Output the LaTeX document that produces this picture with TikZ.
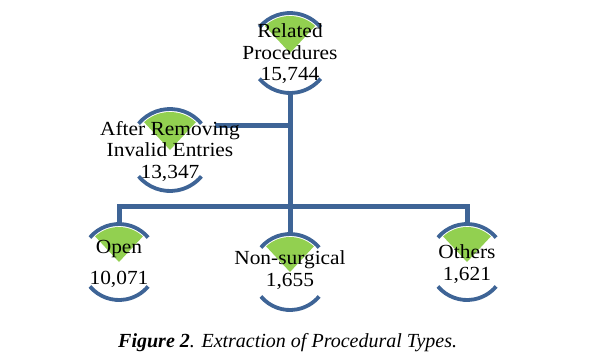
\documentclass[tikz,border=0pt]{standalone}
\usepackage{fontspec}
\setmainfont{Liberation Serif}
\usepackage{tikz}
\usetikzlibrary{backgrounds}
\definecolor{rimblue}{RGB}{62,100,150}
\definecolor{leafgreen}{RGB}{146,208,80}
\tikzstyle{txt} = [align=center,inner sep=0pt,font=\addfontfeature{FakeStretch=1.07}\fontsize{20}{21.5}\selectfont]
\tikzstyle{link} = [draw=rimblue,line width=5pt]
\tikzstyle{rim} = [draw=rimblue,line width=3.8pt]
\tikzstyle{wedge} = [fill=leafgreen]

\begin{document}
\begin{tikzpicture}[x=1pt,y=1pt]
        \useasboundingbox (0,0) rectangle (602,-362);
        \node[txt] (rel) at (290,-54) {Related\\Procedures\\15,744};
        \node[txt] (aft) at (170,-151) {After Removing\\Invalid Entries\\13,347};
        \node[txt] (open) at (119,-264) {Open\\[9pt]10,071};
        \node[txt] (non) at (290,-270) {Non-surgical\\1,655};
        \node[txt] (oth) at (467,-264) {Others\\1,621};
        \coordinate (bar) at (0,-206.5);
        \coordinate (aftjoin) at ([shift={(45,25.5)}]aft.center);
        \node[anchor=base west,inner sep=0pt,font=\fontsize{20}{22}\selectfont] (cap) at (118,-347)
          {\textbf{\textit{Figure 2}}\textit{. Extraction of Procedural Types.}};
        \begin{pgfonlayer}{background}
        \foreach \n/\r/\dy in {rel/40/1, aft/41/1, open/38/2, non/38/-2, oth/38/2} {
          \fill[wedge] ([yshift=\dy]\n.center) -- ++(133:\r-3) arc[start angle=133,end angle=47,radius=\r-3] -- cycle;
          \draw[rim] ([yshift=\dy]\n.center) ++(140:\r) arc[start angle=140,end angle=40,radius=\r];
          \draw[rim] ([yshift=\dy]\n.center) ++(220:\r) arc[start angle=220,end angle=320,radius=\r];
        }
        \draw[link] ([yshift=-39]rel.center) -- (rel.center |- bar);
        \draw[link] (aftjoin) -- (aftjoin -| rel.center);
        \draw[link] ([yshift=40]open.center) -- (open.center |- bar) -- (oth.center |- bar) -- ([yshift=40]oth.center);
        \draw[link] ([yshift=36]non.center) -- (non.center |- bar);
        \end{pgfonlayer}
      \end{tikzpicture}
\end{document}
